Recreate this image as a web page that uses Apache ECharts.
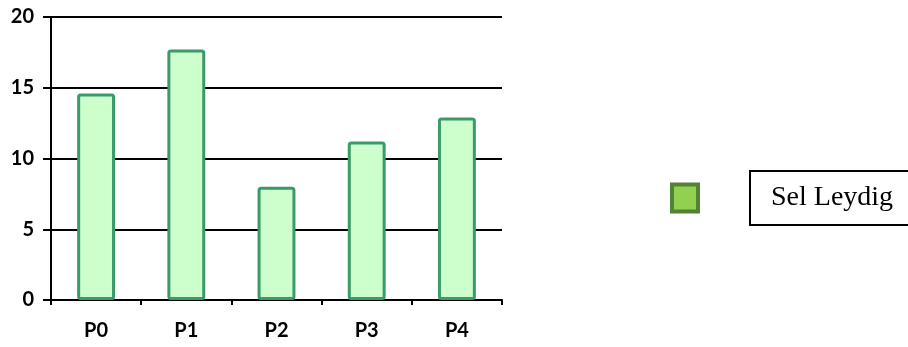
<!DOCTYPE html>
<html>
<head>
<meta charset="utf-8">
<script src="https://cdn.jsdelivr.net/npm/echarts@6/dist/echarts.min.js"></script>
<style>
html,body{margin:0;padding:0;background:#fff;}
#chart{width:908px;height:347px;}
</style>
</head>
<body>
<div id="chart"></div>
<script>
const categories = ['P0', 'P1', 'P2', 'P3', 'P4'];
const seriesName = 'Sel Leydig';
const values = [14.6, 17.7, 8.0, 11.2, 12.9];
const yTicks = { min: 0, max: 20, interval: 5 };

const chart = echarts.init(document.getElementById('chart'), null, { renderer: 'canvas' });
const labelFont = { fontFamily: 'Lato, "Open Sans", sans-serif', fontWeight: 'bold', fontSize: 20, color: '#000' };

chart.setOption({
  animation: false,
  backgroundColor: '#fff',
  grid: { left: 51, right: 406, top: 17, bottom: 47, containLabel: false },
  legend: {
    left: 670,
    top: 170,
    padding: 0,
    orient: 'vertical',
    icon: 'rect',
    itemWidth: 26,
    itemHeight: 27,
    itemStyle: { color: '#92d050', borderColor: '#548235', borderWidth: 4 },
    data: [{ name: seriesName, icon: 'rect', itemStyle: { color: '#92d050', borderColor: '#548235', borderWidth: 4 } }],
    formatter: function (name) { return '{gap|}{box|' + name + '}'; },
    textStyle: {
      rich: {
        gap: { width: 47 },
        box: {
          fontFamily: '"Liberation Serif", "DejaVu Serif", serif',
          fontSize: 28,
          color: '#000',
          borderColor: '#000',
          borderWidth: 2,
          padding: [13, 60, 13, 21],
          height: 28
        }
      }
    }
  },
  xAxis: {
    type: 'category',
    data: categories,
    boundaryGap: true,
    axisLine: { show: true, lineStyle: { color: '#000', width: 2 } },
    axisTick: { show: true, length: 5, inside: false, alignWithLabel: false, lineStyle: { color: '#000', width: 2 } },
    axisLabel: Object.assign({ margin: 21 }, labelFont),
    splitLine: { show: false }
  },
  yAxis: {
    type: 'value',
    min: yTicks.min,
    max: yTicks.max,
    interval: yTicks.interval,
    axisLine: { show: true, lineStyle: { color: '#000', width: 2 } },
    axisTick: { show: true, length: 8, inside: false, lineStyle: { color: '#000', width: 2 } },
    axisLabel: Object.assign({ margin: 17 }, labelFont),
    splitLine: { show: true, lineStyle: { color: '#000', width: 2 } }
  },
  series: [{
    name: seriesName,
    type: 'bar',
    data: values,
    barWidth: '42%',
    itemStyle: { color: '#ccffcc', borderColor: '#3a9a68', borderWidth: 3, borderRadius: 2 }
  }]
});
</script>
</body>
</html>
